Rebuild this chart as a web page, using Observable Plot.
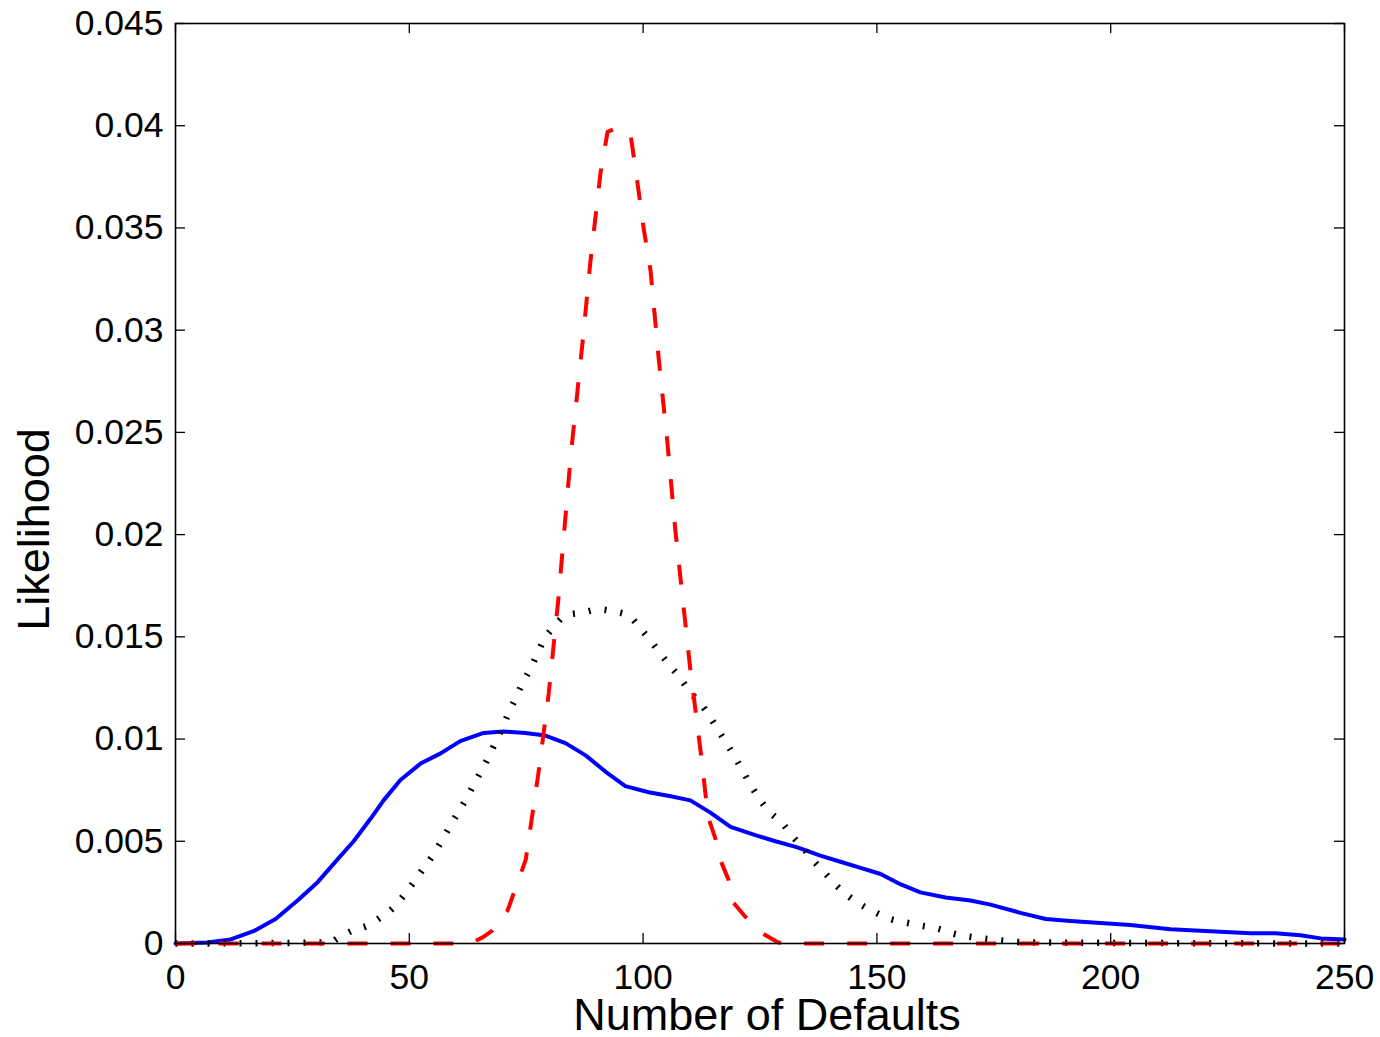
<!DOCTYPE html>
<html><head><meta charset="utf-8">
<script src="https://cdn.jsdelivr.net/npm/d3@7"></script>
<script src="https://cdn.jsdelivr.net/npm/@observablehq/plot@0.6"></script>
<style>
body{margin:0;background:#fff}
svg{font-family:"Liberation Sans",Arial,Helvetica,sans-serif}
</style>
</head><body><div id="chart"></div>
<script>
const xTicks = [0, 50, 100, 150, 200, 250];
const yTicks = [0, 0.005, 0.01, 0.015, 0.02, 0.025, 0.03, 0.035, 0.04, 0.045];
const xLabel = "Number of Defaults";
const yLabel = "Likelihood";

// Blue solid series
const blueX = [0, 6.8, 11.8, 16.7, 21.4, 26.1, 30.4, 34.6, 38.1, 41.7, 44.5, 48.1, 52.4, 56.7, 60.9, 65.9, 70.1, 74.8, 79.1, 83.4, 87.7, 92.0, 96.2, 101.2, 105.9, 110.1, 114.4, 118.7, 124.0, 128.3, 133.0, 137.9, 142.2, 146.5, 150.8, 155.0, 159.3, 164.7, 170.0, 174.3, 180.7, 186.1, 191.4, 197.8, 204.2, 212.8, 221.3, 229.9, 235.2, 240.6, 244.9, 250];
const blueY = [0, 0.00005, 0.0002, 0.0006, 0.0012, 0.0021, 0.0030, 0.0041, 0.0050, 0.0061, 0.0070, 0.0080, 0.0088, 0.0093, 0.0099, 0.0103, 0.01037, 0.0103, 0.01017, 0.0098, 0.0092, 0.0084, 0.0077, 0.0074, 0.0072, 0.0070, 0.0064, 0.0057, 0.0053, 0.0050, 0.0047, 0.0043, 0.0040, 0.0037, 0.0034, 0.0029, 0.0025, 0.00225, 0.0021, 0.0019, 0.0015, 0.0012, 0.0011, 0.0010, 0.0009, 0.0007, 0.0006, 0.0005, 0.0005, 0.0004, 0.00025, 0.0002];

// Black dotted series
const blackX = [0, 33.1, 34.6, 37.9, 41.1, 43.8, 46.6, 48.8, 50.9, 53.0, 55.0, 56.7, 58.4, 60.3, 62.0, 63.7, 65.2, 66.9, 68.4, 69.9, 71.2, 72.7, 74.2, 75.9, 77.4, 78.7, 80.8, 83.4, 87.0, 90.5, 93.7, 96.9, 99.4, 101.6, 103.7, 105.9, 108.0, 110.1, 112.3, 114.4, 116.1, 118.0, 119.8, 121.5, 123.2, 125.1, 127.2, 129.8, 132.0, 134.3, 136.4, 139.0, 141.1, 143.7, 146.5, 149.7, 152.5, 156.1, 159.3, 163.0, 166.2, 169.6, 172.8, 176.4, 182.8, 250];
const blackY = [0, 0.00005, 0.00024, 0.00064, 0.00088, 0.00127, 0.00176, 0.00235, 0.00298, 0.00367, 0.0043, 0.00494, 0.00562, 0.00636, 0.0070, 0.00773, 0.00836, 0.0091, 0.00983, 0.01056, 0.01125, 0.01198, 0.01272, 0.01345, 0.01418, 0.01482, 0.01546, 0.01604, 0.01619, 0.01634, 0.01624, 0.01604, 0.01541, 0.01482, 0.01418, 0.01355, 0.01296, 0.01228, 0.01174, 0.01105, 0.01042, 0.00973, 0.00905, 0.00836, 0.00768, 0.0070, 0.00641, 0.00587, 0.00523, 0.00465, 0.00406, 0.00342, 0.00289, 0.00235, 0.00191, 0.00152, 0.00122, 0.00103, 0.00088, 0.00073, 0.00049, 0.00034, 0.00024, 0.00015, 0.00005, 0];

// Red dashed series
const redX = [0, 63.0, 65.7, 67.8, 71.0, 74.9, 77.6, 79.8, 81.9, 84.5, 87.0, 88.8, 90.9, 92.4, 94.5, 97.3, 98.8, 100.1, 101.6, 103.3, 105.2, 106.9, 110.1, 112.3, 113.9, 115.5, 116.5, 118.3, 119.3, 121.9, 125.5, 128.9, 131.5, 250];
const redY = [0, 0, 0.0003, 0.00064, 0.0016, 0.0041, 0.0083, 0.0122, 0.0169, 0.0238, 0.0293, 0.0335, 0.0377, 0.0397, 0.0399, 0.0396, 0.0372, 0.0350, 0.0329, 0.0287, 0.0245, 0.0202, 0.0134, 0.0094, 0.0062, 0.0051, 0.0041, 0.0031, 0.0020, 0.0013, 0.0005, 0.00005, 0, 0];

const toRows = (xs, ys) => xs.map((x, i) => ({x, y: ys[i]}));
const blue = toRows(blueX, blueY);
const black = toRows(blackX, blackY);
const red = toRows(redX, redY);

const plotH = 1037 - 23 - 94;
const plotW = 1380 - 175 - 36;
const tl = 10;

const chart = Plot.plot({
  width: 1380,
  height: 1037,
  marginLeft: 175,
  marginRight: 36,
  marginTop: 23,
  marginBottom: 94,
  style: {fontFamily: '"Liberation Sans", Arial, Helvetica, sans-serif', background: "#fff", color: "#000"},
  x: {domain: [0, 250]},
  y: {domain: [0, 0.045]},
  marks: [
    Plot.line(blue, {x: "x", y: "y", stroke: "#0000ff", strokeWidth: 4, strokeLinejoin: "round"}),
    Plot.line(black, {x: "x", y: "y", stroke: "#000", strokeWidth: 6.5, strokeDasharray: "2,14", strokeLinecap: "butt", curve: "monotone-x"}),
    Plot.line(red, {x: "x", y: "y", stroke: "#ff0000", strokeWidth: 4, strokeDasharray: "20,23", strokeLinecap: "butt"}),
    // inward ticks
    Plot.ruleX(xTicks, {x: d => d, insetTop: plotH - tl, stroke: "#000", strokeWidth: 1.3}),
    Plot.ruleX(xTicks, {x: d => d, insetBottom: plotH - tl, stroke: "#000", strokeWidth: 1.3}),
    Plot.ruleY(yTicks, {y: d => d, insetRight: plotW - tl, stroke: "#000", strokeWidth: 1.3}),
    Plot.ruleY(yTicks, {y: d => d, insetLeft: plotW - tl, stroke: "#000", strokeWidth: 1.3}),
    Plot.frame({stroke: "#000", strokeWidth: 1.6}),
    Plot.axisX(xTicks, {tickSize: 0, tickPadding: 20, fontSize: 35.5, tickFormat: d => String(d), label: null}),
    Plot.axisY(yTicks, {tickSize: 0, tickPadding: 12, fontSize: 35.5, tickFormat: d => String(d), label: null}),
    Plot.text([xLabel], {text: d => d, frameAnchor: "bottom", dx: 7, dy: 72, lineAnchor: "middle", fontSize: 45, fill: "#000"}),
    Plot.text([yLabel], {text: d => d, frameAnchor: "left", textAnchor: "middle", rotate: -90, dx: -158, dy: 46, lineAnchor: "top", fontSize: 45, fill: "#000"})
  ]
});
document.getElementById("chart").appendChild(chart);
</script>
</body></html>
